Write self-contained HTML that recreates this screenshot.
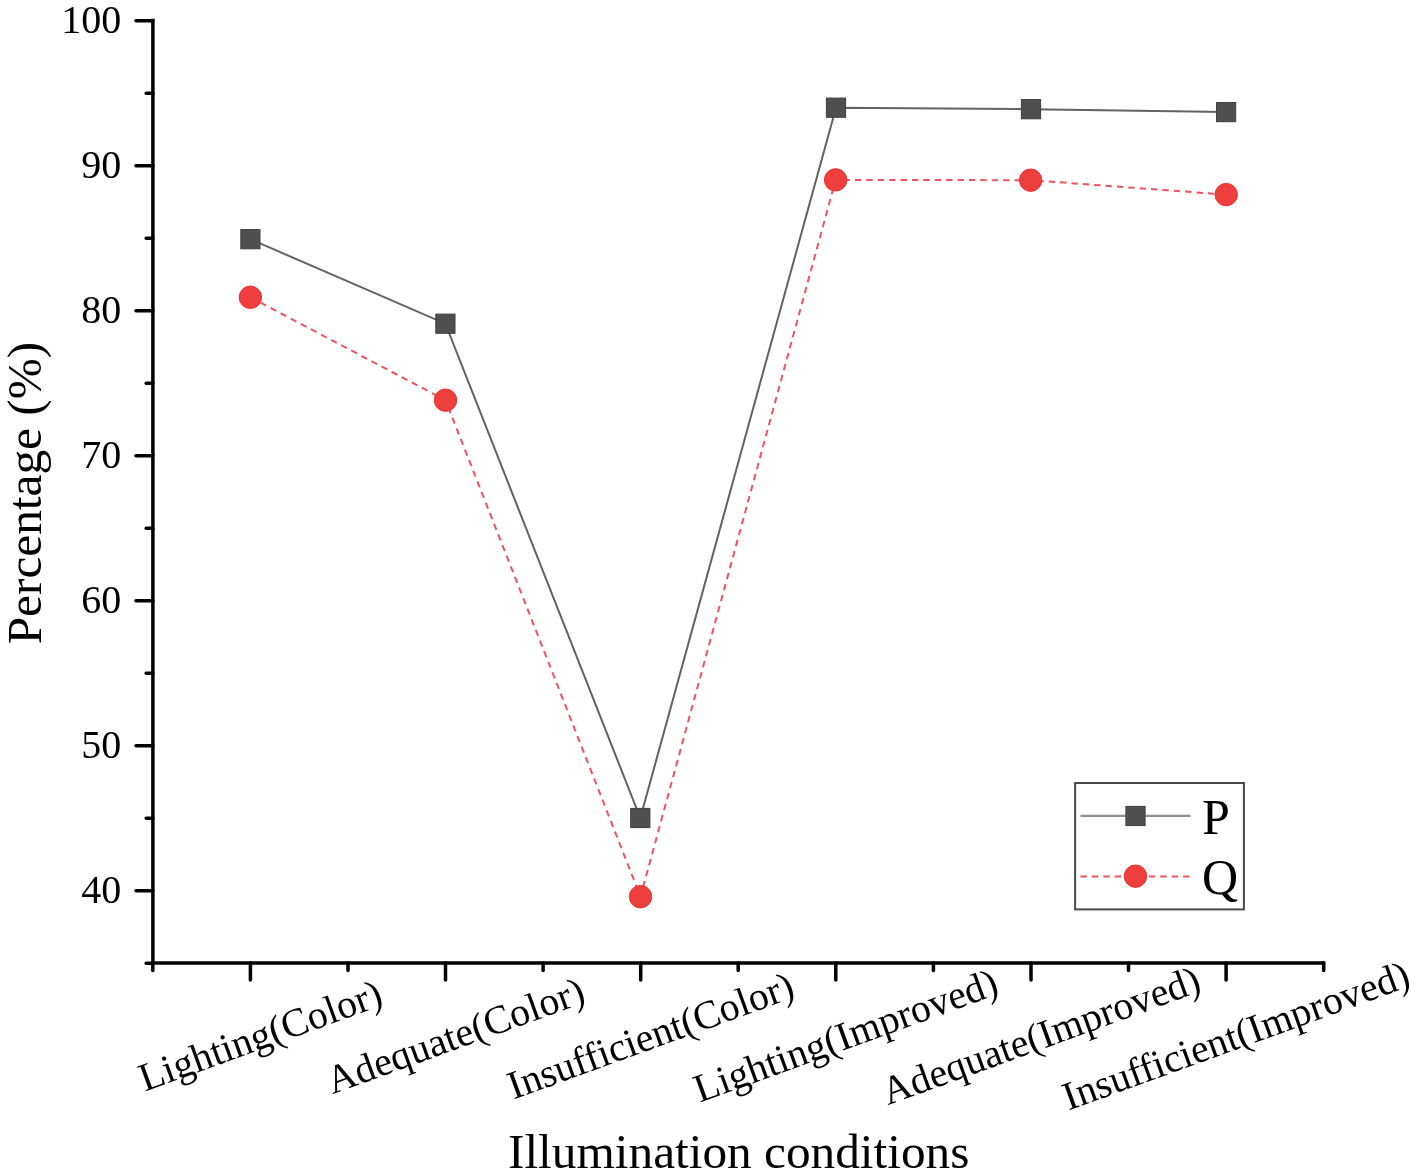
<!DOCTYPE html><html><head><meta charset="utf-8"><style>html,body{margin:0;padding:0;background:#fff;}svg{display:block;will-change:transform;}text{font-family:"Liberation Serif",serif;fill:#000;}</style></head><body>
<svg width="1417" height="1175" viewBox="0 0 1417 1175">
<g stroke="#000" stroke-width="3.5" stroke-linecap="round" fill="none">
<path d="M152.9,18.8 V962.9 H1325.2" stroke-linecap="butt" stroke-linejoin="miter"/>
<path d="M152.9,963.2 H146.2"/>
<path d="M152.9,890.7 H136.0"/>
<path d="M152.9,818.2 H146.2"/>
<path d="M152.9,745.7 H136.0"/>
<path d="M152.9,673.2 H146.2"/>
<path d="M152.9,600.7 H136.0"/>
<path d="M152.9,528.2 H146.2"/>
<path d="M152.9,455.7 H136.0"/>
<path d="M152.9,383.2 H146.2"/>
<path d="M152.9,310.7 H136.0"/>
<path d="M152.9,238.2 H146.2"/>
<path d="M152.9,165.7 H136.0"/>
<path d="M152.9,93.2 H146.2"/>
<path d="M152.9,20.7 H136.0"/>
<path d="M250.4,962.9 V980.0"/>
<path d="M445.5,962.9 V980.0"/>
<path d="M640.7,962.9 V980.0"/>
<path d="M835.8,962.9 V980.0"/>
<path d="M1031.0,962.9 V980.0"/>
<path d="M1226.1,962.9 V980.0"/>
<path d="M152.8,962.9 V970.6"/>
<path d="M348.0,962.9 V970.6"/>
<path d="M543.1,962.9 V970.6"/>
<path d="M738.2,962.9 V970.6"/>
<path d="M933.4,962.9 V970.6"/>
<path d="M1128.5,962.9 V970.6"/>
<path d="M1323.7,962.9 V970.6"/>
</g>
<text x="121.3" y="902.8" font-size="40" text-anchor="end">40</text>
<text x="121.3" y="757.8" font-size="40" text-anchor="end">50</text>
<text x="121.3" y="612.8" font-size="40" text-anchor="end">60</text>
<text x="121.3" y="467.8" font-size="40" text-anchor="end">70</text>
<text x="121.3" y="322.8" font-size="40" text-anchor="end">80</text>
<text x="121.3" y="177.8" font-size="40" text-anchor="end">90</text>
<text x="121.3" y="32.8" font-size="40" text-anchor="end">100</text>
<polyline points="250.4,239.2 445.4,323.7 640.3,818.0 836.0,107.7 1031.0,109.2 1226.1,112.1" fill="none" stroke="#626262" stroke-width="2"/>
<polyline points="250.4,297.3 445.5,400.2 640.5,896.7 835.6,179.9 1030.6,180.2 1226.2,194.6" fill="none" stroke="#f05262" stroke-width="2" stroke-dasharray="6.4,5"/>
<rect x="240.8" y="229.6" width="19.2" height="19.2" fill="#4f4f4f" stroke="#404040" stroke-width="1"/>
<rect x="435.8" y="314.1" width="19.2" height="19.2" fill="#4f4f4f" stroke="#404040" stroke-width="1"/>
<rect x="630.7" y="808.4" width="19.2" height="19.2" fill="#4f4f4f" stroke="#404040" stroke-width="1"/>
<rect x="826.4" y="98.1" width="19.2" height="19.2" fill="#4f4f4f" stroke="#404040" stroke-width="1"/>
<rect x="1021.4" y="99.6" width="19.2" height="19.2" fill="#4f4f4f" stroke="#404040" stroke-width="1"/>
<rect x="1216.5" y="102.5" width="19.2" height="19.2" fill="#4f4f4f" stroke="#404040" stroke-width="1"/>
<circle cx="250.4" cy="297.3" r="11.2" fill="#ef3e3e" stroke="#ee2a2a" stroke-width="1"/>
<circle cx="445.5" cy="400.2" r="11.2" fill="#ef3e3e" stroke="#ee2a2a" stroke-width="1"/>
<circle cx="640.5" cy="896.7" r="11.2" fill="#ef3e3e" stroke="#ee2a2a" stroke-width="1"/>
<circle cx="835.6" cy="179.9" r="11.2" fill="#ef3e3e" stroke="#ee2a2a" stroke-width="1"/>
<circle cx="1030.6" cy="180.2" r="11.2" fill="#ef3e3e" stroke="#ee2a2a" stroke-width="1"/>
<circle cx="1226.2" cy="194.6" r="11.2" fill="#ef3e3e" stroke="#ee2a2a" stroke-width="1"/>
<rect x="1075.1" y="783" width="168.8" height="126.4" fill="none" stroke="#4a4a4a" stroke-width="2"/>
<line x1="1080.5" y1="815.9" x2="1190.6" y2="815.9" stroke="#8f8f8f" stroke-width="2.4"/>
<rect x="1125.9" y="806.4" width="19.2" height="19.2" fill="#4f4f4f" stroke="#404040" stroke-width="1"/>
<line x1="1080.5" y1="876.6" x2="1190.6" y2="876.6" stroke="#f05262" stroke-width="2" stroke-dasharray="6.4,5"/>
<circle cx="1135.5" cy="876.2" r="11.2" fill="#ef3e3e" stroke="#ee2a2a" stroke-width="1"/>
<text x="1201.9" y="833.5" font-size="50">P</text>
<text x="1202" y="894" font-size="50">Q</text>
<text x="0" y="0" font-size="40" text-anchor="middle" transform="translate(264.7,1048) rotate(-20)">Lighting(Color)</text>
<text x="0" y="0" font-size="40" text-anchor="middle" transform="translate(459.8,1048) rotate(-20)">Adequate(Color)</text>
<text x="0" y="0" font-size="40" text-anchor="middle" transform="translate(655.0,1048) rotate(-20)">Insufficient(Color)</text>
<text x="0" y="0" font-size="40" text-anchor="middle" transform="translate(850.1,1048) rotate(-20)">Lighting(Improved)</text>
<text x="0" y="0" font-size="40" text-anchor="middle" transform="translate(1045.3,1048) rotate(-20)">Adequate(Improved)</text>
<text x="0" y="0" font-size="40" text-anchor="middle" transform="translate(1240.4,1048) rotate(-20)">Insufficient(Improved)</text>
<text x="508" y="1168" font-size="49.3">Illumination conditions</text>
<text x="0" y="0" font-size="49.3" transform="translate(41.3,644.3) rotate(-90)">Percentage (%)</text>
</svg></body></html>
